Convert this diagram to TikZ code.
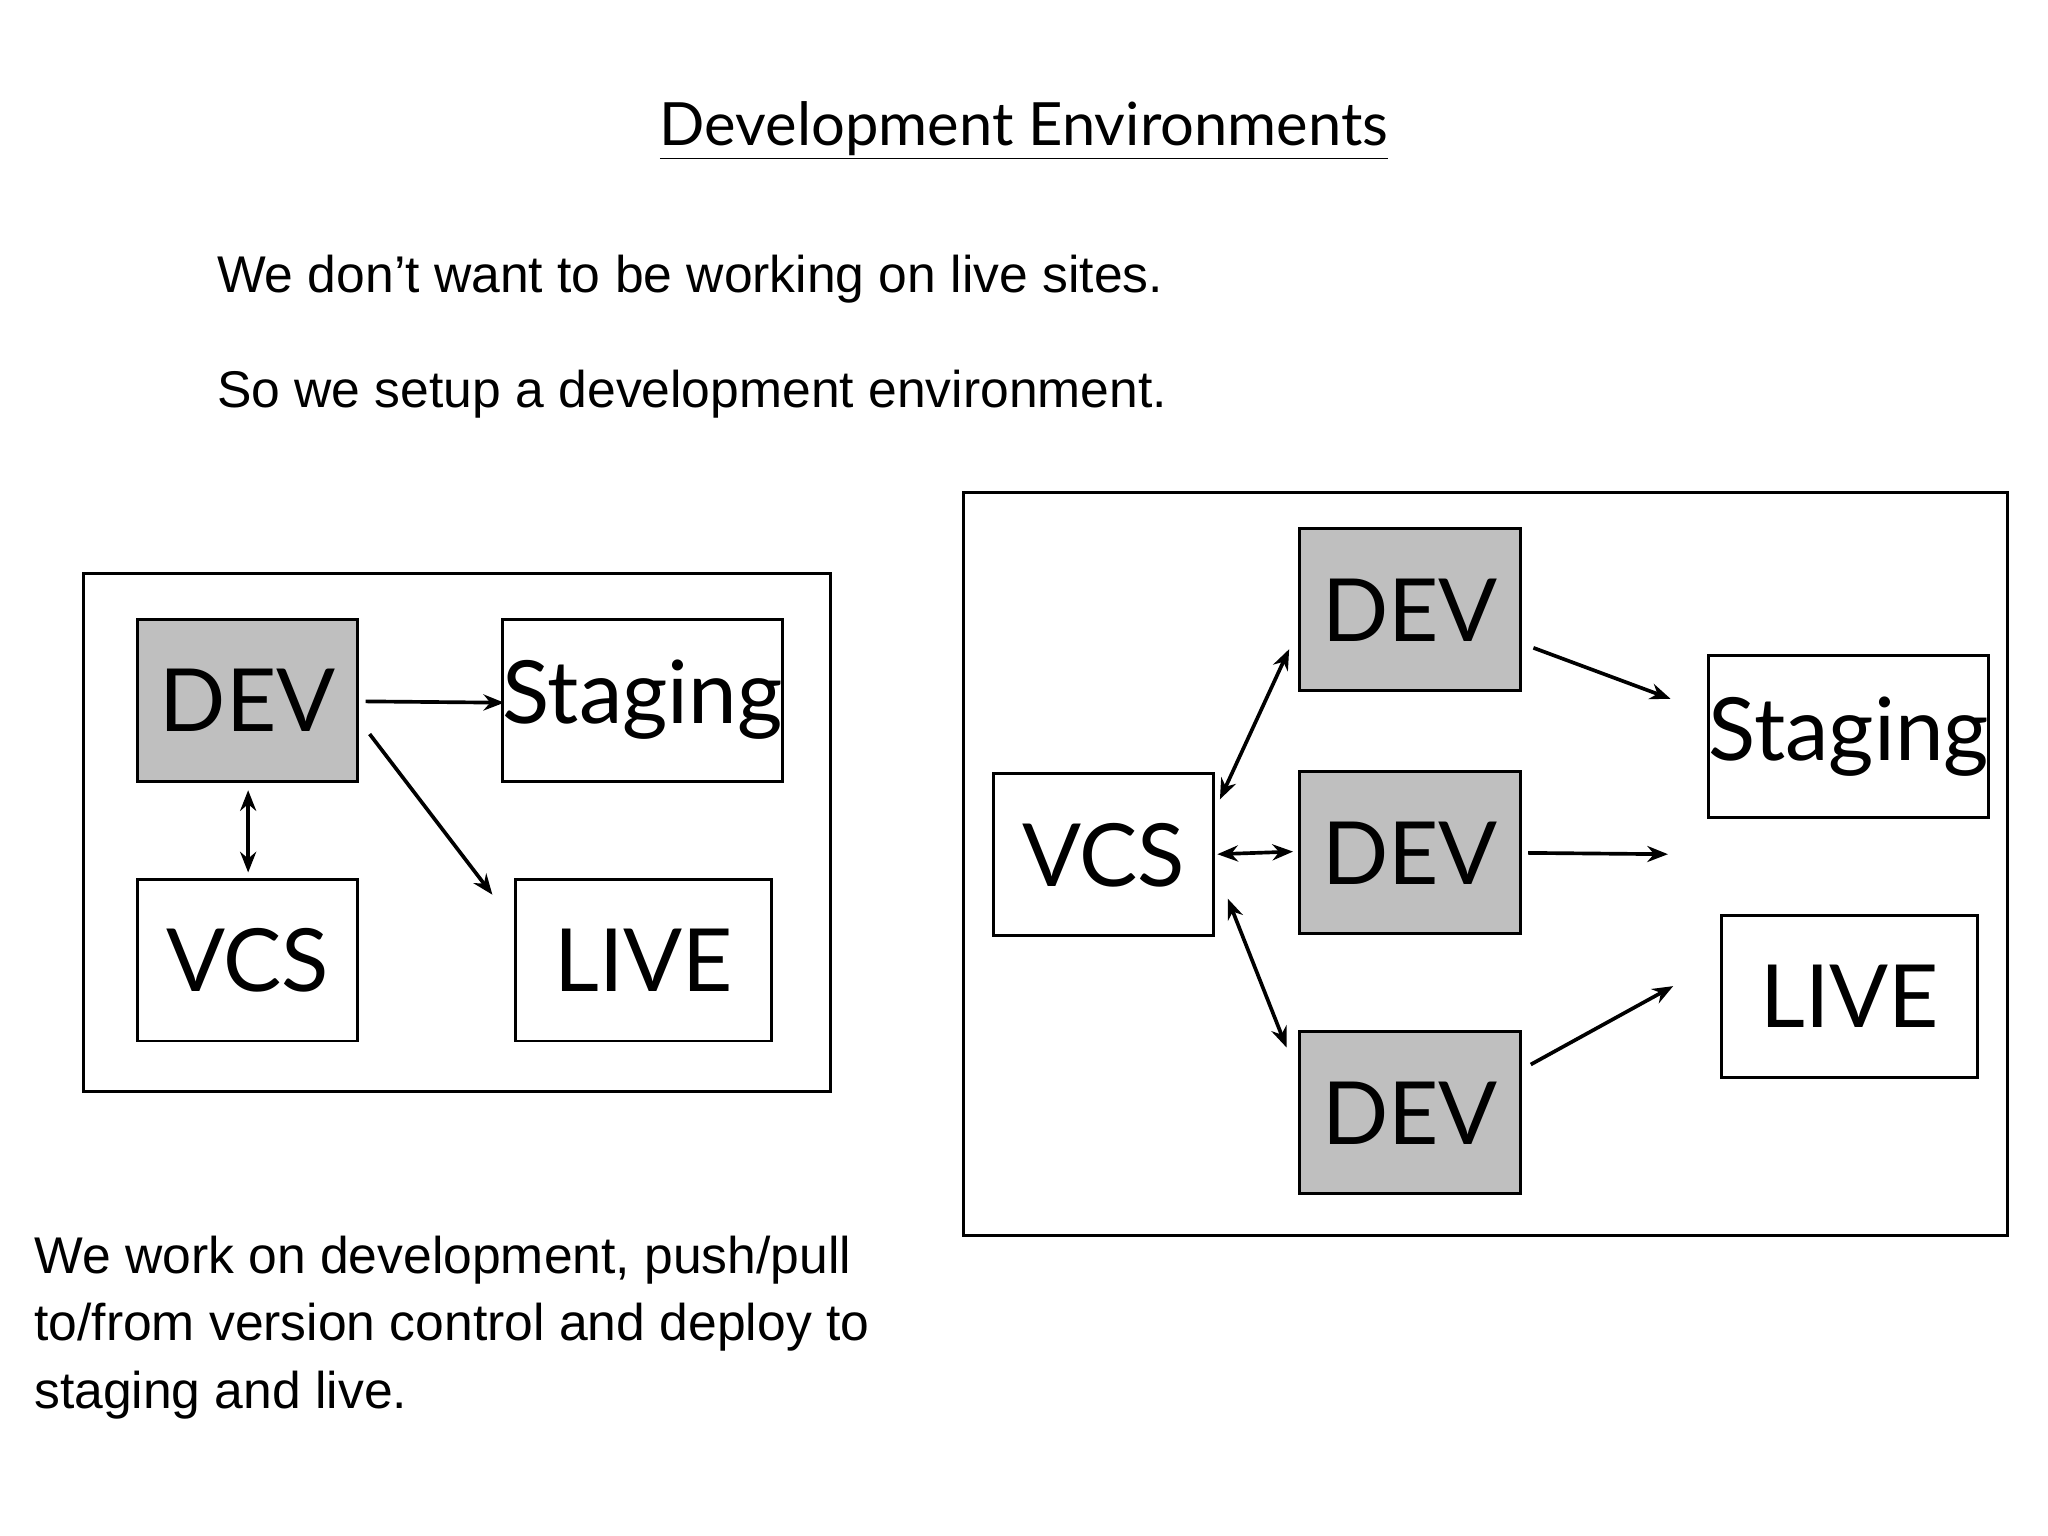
\documentclass[tikz,border=0pt]{standalone}
\usepackage{fontspec}
\setmainfont{Liberation Sans}
\newfontfamily\gill{Lato}
\usetikzlibrary{arrows.meta}
\begin{document}
\begin{tikzpicture}[x=0.02cm,y=-0.02cm,
  box/.style={draw,line width=1.3pt,inner sep=0pt,minimum width=#1*0.02cm,minimum height=124*0.02cm,font=\gill\fontsize{38}{40}\selectfont},
  gbox/.style={box=#1,fill=black!25},
  frame/.style={draw,line width=1.3pt},
  arr/.style={line width=1.6pt,-{Stealth[length=9pt,width=7pt]}},
  darr/.style={line width=1.6pt,{Stealth[length=9pt,width=7pt]}-{Stealth[length=9pt,width=7pt]}},
  txt/.style={anchor=west,font=\fontsize{22.5}{26}\selectfont}]
\useasboundingbox (0,0) rectangle (1568,1176);
\node[font=\gill\fontsize{26}{30}\selectfont] (title) at (784,100) {\underline{Development Environments}};
\node[txt] (t1) at (160,214) {We don’t want to be working on live sites.};
\node[txt] (t2) at (160,302) {So we setup a development environment.};
\node[txt,anchor=north west,align=left,font=\fontsize{22.5}{29.5}\selectfont] (t3) at (20,940) {We work on development, push/pull\\to/from version control and deploy to\\staging and live.};
% left
\draw[frame] (64,439) rectangle (636,836);
\node[gbox=169] (ldev) at (189.5,536) {DEV};
\node[box=202] (lstg) at (492,536) {Staging};
\node[box=169] (lvcs) at (189.5,735) {VCS};
\node[box=196] (llive) at (493,735) {LIVE};
\coordinate (a1) at (280,537); \coordinate (a2) at (386,538);
\coordinate (b1) at (283,562); \coordinate (b2) at (377,685);
\coordinate (c1) at (190,605); \coordinate (c2) at (190,668);
\draw[arr] (a1) -- (a2);
\draw[arr] (b1) -- (b2);
\draw[darr] (c1) -- (c2);
% right
\draw[frame] (738,377) rectangle (1537,946);
\node[gbox=169] (d1) at (1079.5,467) {DEV};
\node[gbox=169] (d2) at (1079.5,653) {DEV};
\node[gbox=169] (d3) at (1079.5,852) {DEV};
\node[box=168] (rvcs) at (845,654.5) {VCS};
\node[box=201] (rstg) at (1415.5,564) {Staging};
\node[box=196] (rlive) at (1416,763) {LIVE};
\coordinate (e1) at (934,612); \coordinate (e2) at (987,497);
\coordinate (f1) at (932,654); \coordinate (f2) at (990,652);
\coordinate (g1) at (940,688); \coordinate (g2) at (985,802);
\coordinate (h1) at (1174,496); \coordinate (h2) at (1279,535);
\coordinate (i1) at (1170,653); \coordinate (i2) at (1277,654);
\coordinate (j1) at (1172,815); \coordinate (j2) at (1281,755);
\draw[darr] (e1) -- (e2);
\draw[darr] (f1) -- (f2);
\draw[darr] (g1) -- (g2);
\draw[arr] (h1) -- (h2);
\draw[arr] (i1) -- (i2);
\draw[arr] (j1) -- (j2);
\end{tikzpicture}
\end{document}
